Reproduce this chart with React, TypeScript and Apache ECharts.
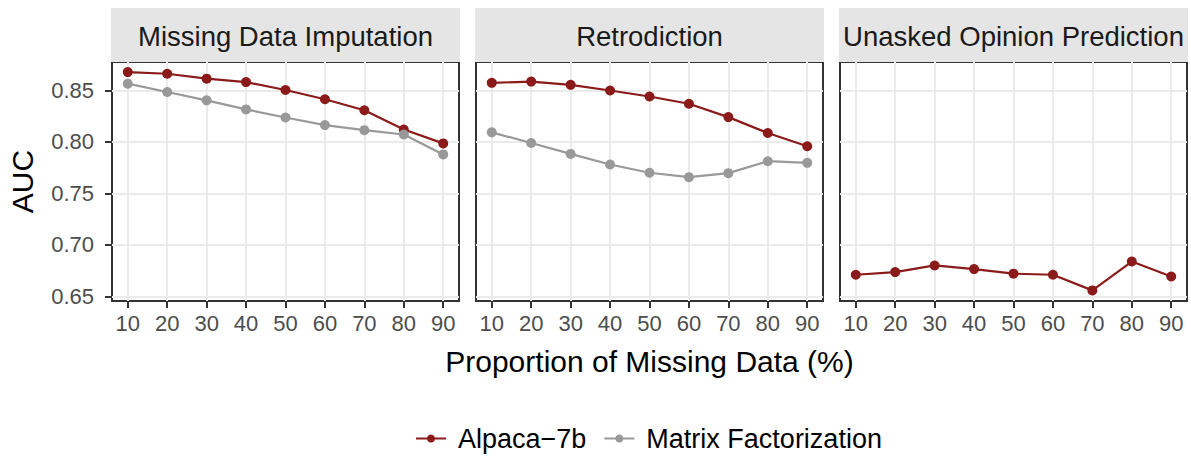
import React, { useEffect, useRef } from "react";
import * as echarts from "echarts";

const xValues = [10, 20, 30, 40, 50, 60, 70, 80, 90];
const yTicks = [0.65, 0.7, 0.75, 0.8, 0.85];
const panelTitles = ["Missing Data Imputation", "Retrodiction", "Unasked Opinion Prediction"];
const seriesNames = ["Alpaca\u22127b", "Matrix Factorization"];

const alpacaImputation = [0.8677, 0.8661, 0.8613, 0.858, 0.8503, 0.8413, 0.8307, 0.812, 0.7985];
const mfImputation = [0.8565, 0.8484, 0.8403, 0.8315, 0.8236, 0.8163, 0.8113, 0.8071, 0.7878];
const alpacaRetrodiction = [0.8573, 0.8585, 0.8553, 0.8498, 0.844, 0.837, 0.824, 0.8086, 0.7957];
const mfRetrodiction = [0.8092, 0.7989, 0.7883, 0.778, 0.77, 0.7657, 0.7696, 0.7812, 0.7796];
const alpacaUnasked = [0.671, 0.6736, 0.68, 0.6765, 0.672, 0.671, 0.6558, 0.6838, 0.6693];

const RED = "#8B1A1A";
const GREY = "#999999";
const FONT = "Liberation Sans, Arial, Helvetica, sans-serif";

export default function App() {
  const ref = useRef<HTMLDivElement>(null);
  useEffect(() => {
    if (!ref.current) return;
    const chart = echarts.init(ref.current, null, { renderer: "svg" });
    const panelLeft = [112, 476, 840];
    const panelW = 347;
    const top = 62;
    const height = 239;
    const stripTop = 8;
    const stripH = 54;

    const grids = panelLeft.map((l) => ({
      left: l,
      top,
      width: panelW,
      height,
      show: true,
      borderColor: "#333333",
      borderWidth: 2,
      backgroundColor: "#ffffff",
      containLabel: false,
    }));

    const xAxes = panelLeft.map((_, i) => ({
      type: "value",
      gridIndex: i,
      min: 6,
      max: 94,
      axisLine: { show: false },
      axisTick: {
        show: true,
        length: 7,
        customValues: xValues,
        lineStyle: { color: "#333333", width: 2 },
      },
      axisLabel: {
        show: true,
        customValues: xValues,
        margin: 11,
        fontSize: 22,
        color: "#4d4d4d",
        fontFamily: FONT,
      },
      splitLine: { show: true, lineStyle: { color: "#ebebeb", width: 2 } },
    }));

    const yAxes = panelLeft.map((_, i) => ({
      type: "value",
      gridIndex: i,
      min: 0.6455,
      max: 0.8775,
      axisLine: { show: false },
      axisTick: {
        show: i === 0,
        length: 7,
        customValues: yTicks,
        lineStyle: { color: "#333333", width: 2 },
      },
      axisLabel: {
        show: i === 0,
        customValues: yTicks,
        margin: 18,
        fontSize: 22,
        color: "#4d4d4d",
        fontFamily: FONT,
        formatter: (v: number) => v.toFixed(2),
      },
      splitLine: { show: true, lineStyle: { color: "#ebebeb", width: 2 } },
    }));

    const mk = (name: string, color: string, vals: number[], idx: number) => ({
      name,
      type: "line",
      xAxisIndex: idx,
      yAxisIndex: idx,
      data: xValues.map((x, i) => [x, vals[i]]),
      symbol: "circle",
      symbolSize: 10,
      showSymbol: true,
      lineStyle: { color, width: 2.2 },
      itemStyle: { color },
      z: 3,
    });

    const series = [
      mk(seriesNames[0], RED, alpacaImputation, 0),
      mk(seriesNames[1], GREY, mfImputation, 0),
      mk(seriesNames[0], RED, alpacaRetrodiction, 1),
      mk(seriesNames[1], GREY, mfRetrodiction, 1),
      mk(seriesNames[0], RED, alpacaUnasked, 2),
    ];

    const graphics: any[] = [];
    panelLeft.forEach((l, i) => {
      graphics.push({
        type: "rect",
        shape: { x: l - 1, y: stripTop, width: panelW + 2, height: stripH },
        style: { fill: "#e5e5e5" },
        z: 0,
      });
      graphics.push({
        type: "text",
        x: l + panelW / 2,
        y: stripTop + stripH / 2 + 1,
        style: {
          text: panelTitles[i],
          fontSize: 27.5,
          fontFamily: FONT,
          fill: "#1a1a1a",
          align: "center",
          verticalAlign: "middle",
        },
        z: 1,
      });
    });
    graphics.push({
      type: "text",
      x: 649.5,
      y: 361,
      style: {
        text: "Proportion of Missing Data (%)",
        fontSize: 30,
        fontFamily: FONT,
        fill: "#000000",
        align: "center",
        verticalAlign: "middle",
      },
    });
    graphics.push({
      type: "text",
      x: 22,
      y: 181.5,
      rotation: Math.PI / 2,
      style: {
        text: "AUC",
        fontSize: 30,
        fontFamily: FONT,
        fill: "#000000",
        align: "center",
        verticalAlign: "middle",
      },
    });

    chart.setOption({
      animation: false,
      backgroundColor: "#ffffff",
      grid: grids,
      xAxis: xAxes,
      yAxis: yAxes,
      series,
      legend: {
        data: seriesNames,
        left: 415,
        top: 425,
        padding: 0,
        itemWidth: 30,
        itemHeight: 10,
        itemGap: 17,
        textStyle: {
          fontSize: 27,
          fontFamily: FONT,
          color: "#000000",
          padding: [0, 0, 0, 7],
        },
      },
      graphic: graphics,
    });
    return () => chart.dispose();
  }, []);
  return (
    <div
      ref={ref}
      style={{ position: "fixed", left: 0, top: 0, width: 1191, height: 456 }}
    />
  );
}
